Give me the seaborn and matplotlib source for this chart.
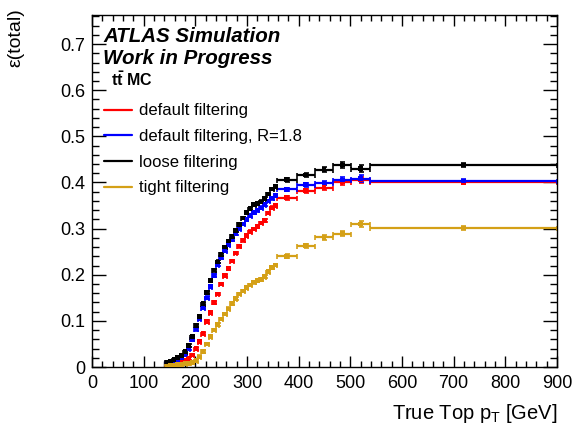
import numpy as np
import pandas as pd
import matplotlib
matplotlib.use("Agg")
import matplotlib.pyplot as plt
from matplotlib.lines import Line2D
from matplotlib.ticker import MultipleLocator
import seaborn as sns

# fine binning (about 7 GeV wide) below ~358 GeV, then wide bins
fine_pt = [145, 152, 159, 166, 173, 180, 187, 194, 201, 208, 215, 222, 229, 236, 243,
           250, 257, 264, 271, 278, 285, 292, 299, 306, 313, 320, 327, 334, 341, 348, 355]
fine_halfwidth = 3.5
wide_edges = [358, 396, 431, 467, 502, 538, 900]

# efficiencies
eff_default = [0.005, 0.007, 0.008, 0.010, 0.012, 0.015, 0.019, 0.026, 0.040, 0.055, 0.072,
               0.098, 0.118, 0.140, 0.158, 0.180, 0.198, 0.214, 0.230, 0.247, 0.262, 0.275,
               0.285, 0.293, 0.299, 0.305, 0.312, 0.318, 0.334, 0.345, 0.350]
eff_default_wide = [0.367, 0.382, 0.389, 0.401, 0.405, 0.400]

eff_r18 = [0.009, 0.011, 0.013, 0.016, 0.020, 0.027, 0.040, 0.060, 0.082, 0.105, 0.128,
           0.150, 0.174, 0.199, 0.222, 0.238, 0.252, 0.265, 0.277, 0.290, 0.300, 0.310,
           0.320, 0.328, 0.335, 0.340, 0.345, 0.352, 0.360, 0.366, 0.372]
eff_r18_wide = [0.385, 0.395, 0.399, 0.405, 0.408, 0.403]

eff_loose = [0.011, 0.013, 0.016, 0.020, 0.025, 0.033, 0.046, 0.066, 0.090, 0.110, 0.137,
             0.162, 0.188, 0.210, 0.228, 0.244, 0.260, 0.273, 0.283, 0.296, 0.309, 0.323,
             0.335, 0.343, 0.352, 0.355, 0.358, 0.365, 0.375, 0.386, 0.391]
eff_loose_wide = [0.406, 0.416, 0.428, 0.438, 0.430, 0.438]

eff_tight = [0.002, 0.003, 0.004, 0.005, 0.006, 0.007, 0.008, 0.010, 0.014, 0.022, 0.034,
             0.050, 0.066, 0.080, 0.092, 0.104, 0.115, 0.126, 0.138, 0.148, 0.158, 0.165,
             0.172, 0.178, 0.184, 0.188, 0.190, 0.196, 0.207, 0.216, 0.221]
eff_tight_wide = [0.240, 0.263, 0.281, 0.289, 0.310, 0.301]

fine_err = 0.003
err_default_wide = [0.004, 0.004, 0.005, 0.006, 0.007, 0.004]
err_r18_wide = [0.004, 0.004, 0.005, 0.007, 0.008, 0.005]
err_loose_wide = [0.004, 0.004, 0.005, 0.006, 0.008, 0.005]
err_tight_wide = [0.004, 0.004, 0.005, 0.006, 0.007, 0.005]

labels = ["default filtering", "default filtering, R=1.8", "loose filtering", "tight filtering"]
colors = ["#ff0000", "#0000ff", "#000000", "#d4a017"]

samples = [
    (eff_default, eff_default_wide, err_default_wide),
    (eff_r18, eff_r18_wide, err_r18_wide),
    (eff_loose, eff_loose_wide, err_loose_wide),
    (eff_tight, eff_tight_wide, err_tight_wide),
]

wide_pt = [(a + b) / 2 for a, b in zip(wide_edges[:-1], wide_edges[1:])]
wide_halfwidth = [(b - a) / 2 for a, b in zip(wide_edges[:-1], wide_edges[1:])]

rows = []
for lab, (fine, wide, werr) in zip(labels, samples):
    for x, y in zip(fine_pt, fine):
        rows.append({"pt": x, "eff": y, "xerr": fine_halfwidth, "yerr": fine_err, "sample": lab})
    for x, y, xe, ye in zip(wide_pt, wide, wide_halfwidth, werr):
        rows.append({"pt": x, "eff": y, "xerr": xe, "yerr": ye, "sample": lab})
df = pd.DataFrame(rows)

sns.set_theme(style="ticks")
plt.rcParams['font.family'] = ['Liberation Sans', 'DejaVu Sans']
plt.rcParams['mathtext.fontset'] = 'custom'
plt.rcParams['mathtext.rm'] = 'Liberation Sans'
plt.rcParams['mathtext.bf'] = 'Liberation Sans:bold'
plt.rcParams['mathtext.it'] = 'Liberation Sans:italic'
plt.rcParams['mathtext.default'] = 'regular'
plt.rcParams['text.color'] = 'black'
plt.rcParams['axes.labelcolor'] = 'black'
plt.rcParams['xtick.color'] = 'black'
plt.rcParams['ytick.color'] = 'black'
plt.rcParams['axes.edgecolor'] = 'black'

fig = plt.figure(figsize=(5.75, 4.3), dpi=100)
ax = fig.add_axes([0.16, 0.1465, 0.8087, 0.8186])

for lab, col in zip(labels, colors):
    sub = df[df["sample"] == lab]
    ax.errorbar(sub["pt"], sub["eff"], xerr=sub["xerr"], yerr=sub["yerr"], fmt='none',
                ecolor=col, elinewidth=1.6, capsize=1.8, capthick=1.2)
    sns.scatterplot(data=sub, x="pt", y="eff", color=col, marker='s', s=11,
                    edgecolor='none', ax=ax, legend=False, zorder=3)

ax.set_xlim(0, 900)
ax.set_ylim(0, 0.763)
ax.xaxis.set_major_locator(MultipleLocator(100))
ax.xaxis.set_minor_locator(MultipleLocator(20))
ax.yaxis.set_major_locator(MultipleLocator(0.1))
ax.yaxis.set_minor_locator(MultipleLocator(0.02))
ax.set_yticks([0, 0.1, 0.2, 0.3, 0.4, 0.5, 0.6, 0.7])
ax.set_yticklabels(["0", "0.1", "0.2", "0.3", "0.4", "0.5", "0.6", "0.7"])
ax.tick_params(which='both', direction='in', top=True, right=True, width=1, color='black',
               labelcolor='black')
ax.tick_params(which='major', length=10, labelsize=13, pad=5)
ax.tick_params(which='minor', length=5)
ax.tick_params(axis='x', which='major', length=8, pad=6)
ax.tick_params(axis='x', which='minor', length=4)
for sp in ax.spines.values():
    sp.set_linewidth(1)
    sp.set_color('black')

ax.set_xlabel("True Top p$_{T}$ [GeV]", fontsize=14.5, loc='right', color='black')
ax.set_ylabel("ε(total)", fontsize=14, loc='top', color='black')
ax.xaxis.set_label_coords(1.0, -0.1)
ax.yaxis.set_label_coords(-0.145, 1.02)

ax.text(0.024, 0.924, "ATLAS Simulation", transform=ax.transAxes, fontsize=14.8,
        fontweight='bold', fontstyle='italic', color='black')
ax.text(0.024, 0.862, "Work in Progress", transform=ax.transAxes, fontsize=14.8,
        fontweight='bold', fontstyle='italic', color='black')
ax.text(0.040, 0.798, r"$\mathbf{t\bar{t}}$ MC", transform=ax.transAxes, fontsize=11.5,
        fontweight='bold', color='black')

handles = [Line2D([0], [0], color=c, lw=1.6) for c in colors]
leg = ax.legend(handles, labels, loc='upper left', bbox_to_anchor=(0.026, 0.749), frameon=False,
                fontsize=12, handlelength=1.7, handletextpad=0.4, labelspacing=0.64,
                borderpad=0, borderaxespad=0)
for t in leg.get_texts():
    t.set_color('black')

fig.savefig("out.png", dpi=100)
